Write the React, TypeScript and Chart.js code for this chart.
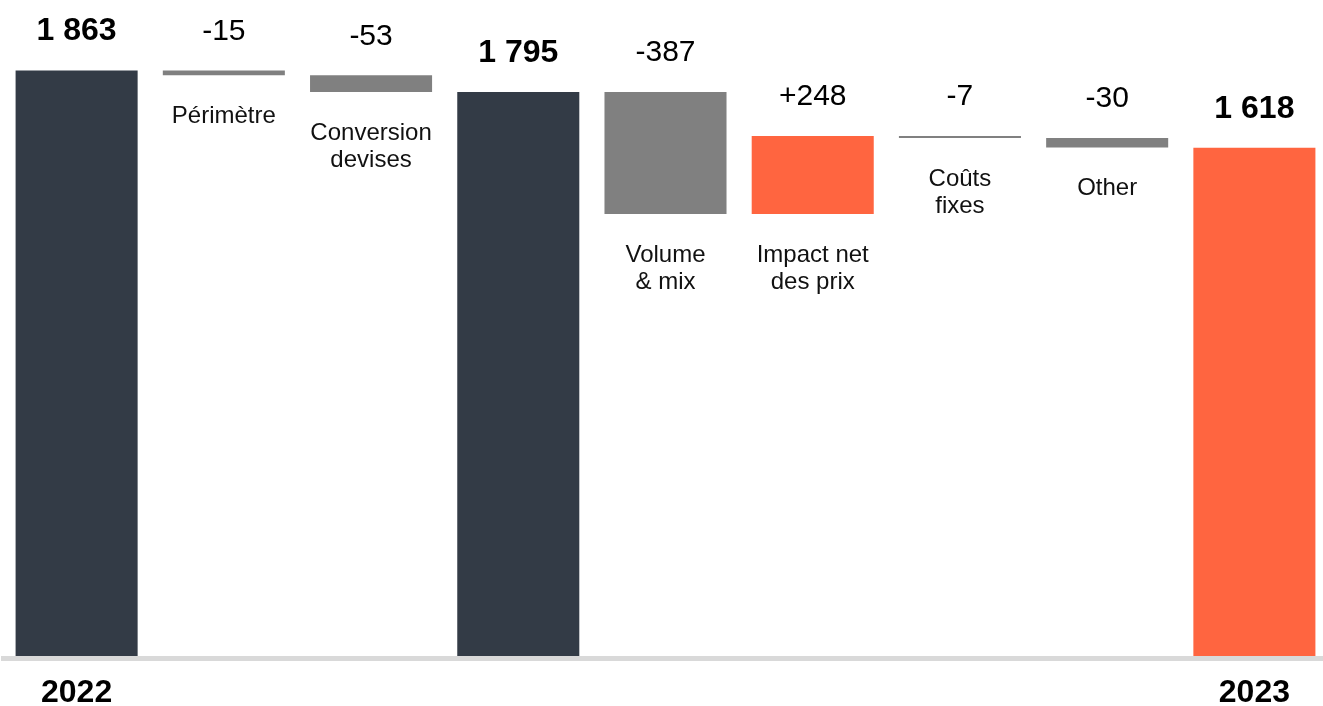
import React, { useEffect, useRef } from "react";
import { Chart, registerables } from "chart.js";

Chart.register(...registerables);

// ---- data ----
const axisLabels = ["2022", "", "", "", "", "", "", "", "2023"];
const stepLabels: string[][] = [
  [],
  ["Périmètre"],
  ["Conversion", "devises"],
  [],
  ["Volume", "& mix"],
  ["Impact net", "des prix"],
  ["Coûts", "fixes"],
  ["Other"],
  [],
];
const values = [1863, -15, -53, 1795, -387, 248, -7, -30, 1618];
const kinds = ["total", "delta", "delta", "total", "delta", "delta", "delta", "delta", "total"];

const DARK = "#333b46";
const GRAY = "#808080";
const ORANGE = "#ff6540";
const FONT = "'Liberation Sans', Arial, sans-serif";

const fmtTotal = (n: number) => String(n).replace(/\B(?=(\d{3})+(?!\d))/g, " ");
const fmtDelta = (n: number) => (n > 0 ? "+" : "") + String(n);

function buildFloating() {
  let running = 0;
  return values.map((v, i) => {
    if (kinds[i] === "total") {
      running = v;
      return [0, v];
    }
    const seg = [running, running + v];
    running += v;
    return seg;
  });
}

const barColors = values.map((v, i) => {
  if (kinds[i] === "total") return i === values.length - 1 ? ORANGE : DARK;
  return v > 0 ? ORANGE : GRAY;
});

const labelPlugin = {
  id: "wfLabels",
  afterDatasetsDraw(chart: any) {
    const ctx = chart.ctx;
    const meta = chart.getDatasetMeta(0);
    ctx.save();
    ctx.textAlign = "center";
    ctx.textBaseline = "middle";
    meta.data.forEach((bar: any, i: number) => {
      const top = Math.min(bar.y, bar.base);
      const bottom = Math.max(bar.y, bar.base);
      const isTotal = kinds[i] === "total";
      ctx.fillStyle = "#000";
      ctx.font = isTotal ? `bold 32px ${FONT}` : `30px ${FONT}`;
      const txt = isTotal ? fmtTotal(values[i]) : fmtDelta(values[i]);
      ctx.fillText(txt, bar.x, top - 39);
      const lines = stepLabels[i];
      ctx.font = `24px ${FONT}`;
      ctx.fillStyle = "#111";
      lines.forEach((ln, k) => {
        ctx.fillText(ln, bar.x, bottom + 41 + k * 27);
      });
    });
    ctx.restore();
  },
};

export default function App() {
  const ref = useRef<HTMLCanvasElement | null>(null);
  useEffect(() => {
    if (!ref.current) return;
    const chart = new Chart(ref.current, {
      type: "bar",
      data: {
        labels: axisLabels,
        datasets: [
          {
            data: buildFloating() as any,
            backgroundColor: barColors,
            borderWidth: 0,
            categoryPercentage: 1,
            barPercentage: 0.829,
          },
        ],
      },
      options: {
        animation: false,
        responsive: false,
        maintainAspectRatio: false,
        layout: { padding: { left: 3, right: 2, top: 0, bottom: 0 } },
        plugins: { legend: { display: false }, tooltip: { enabled: false } },
        scales: {
          x: {
            grid: { display: false, drawTicks: false },
            border: { display: true, width: 5, color: "#d9d9d9", z: 1 },
            afterFit: (scale: any) => {
              scale.height = 48;
            },
            ticks: {
              autoSkip: false,
              maxRotation: 0,
              padding: 19,
              color: "#000",
              font: { family: FONT, size: 32, weight: "bold", lineHeight: 1 },
            },
          },
          y: {
            display: false,
            min: 0,
            max: 2087,
          },
        },
      },
      plugins: [labelPlugin],
    });
    return () => chart.destroy();
  }, []);
  return (
    <div
      style={{
        position: "fixed",
        left: 0,
        top: 0,
        width: 1323,
        height: 706,
        overflow: "hidden",
        background: "#fff",
      }}
    >
      <canvas ref={ref} width={1330} height={706} style={{ display: "block" }} />
    </div>
  );
}
